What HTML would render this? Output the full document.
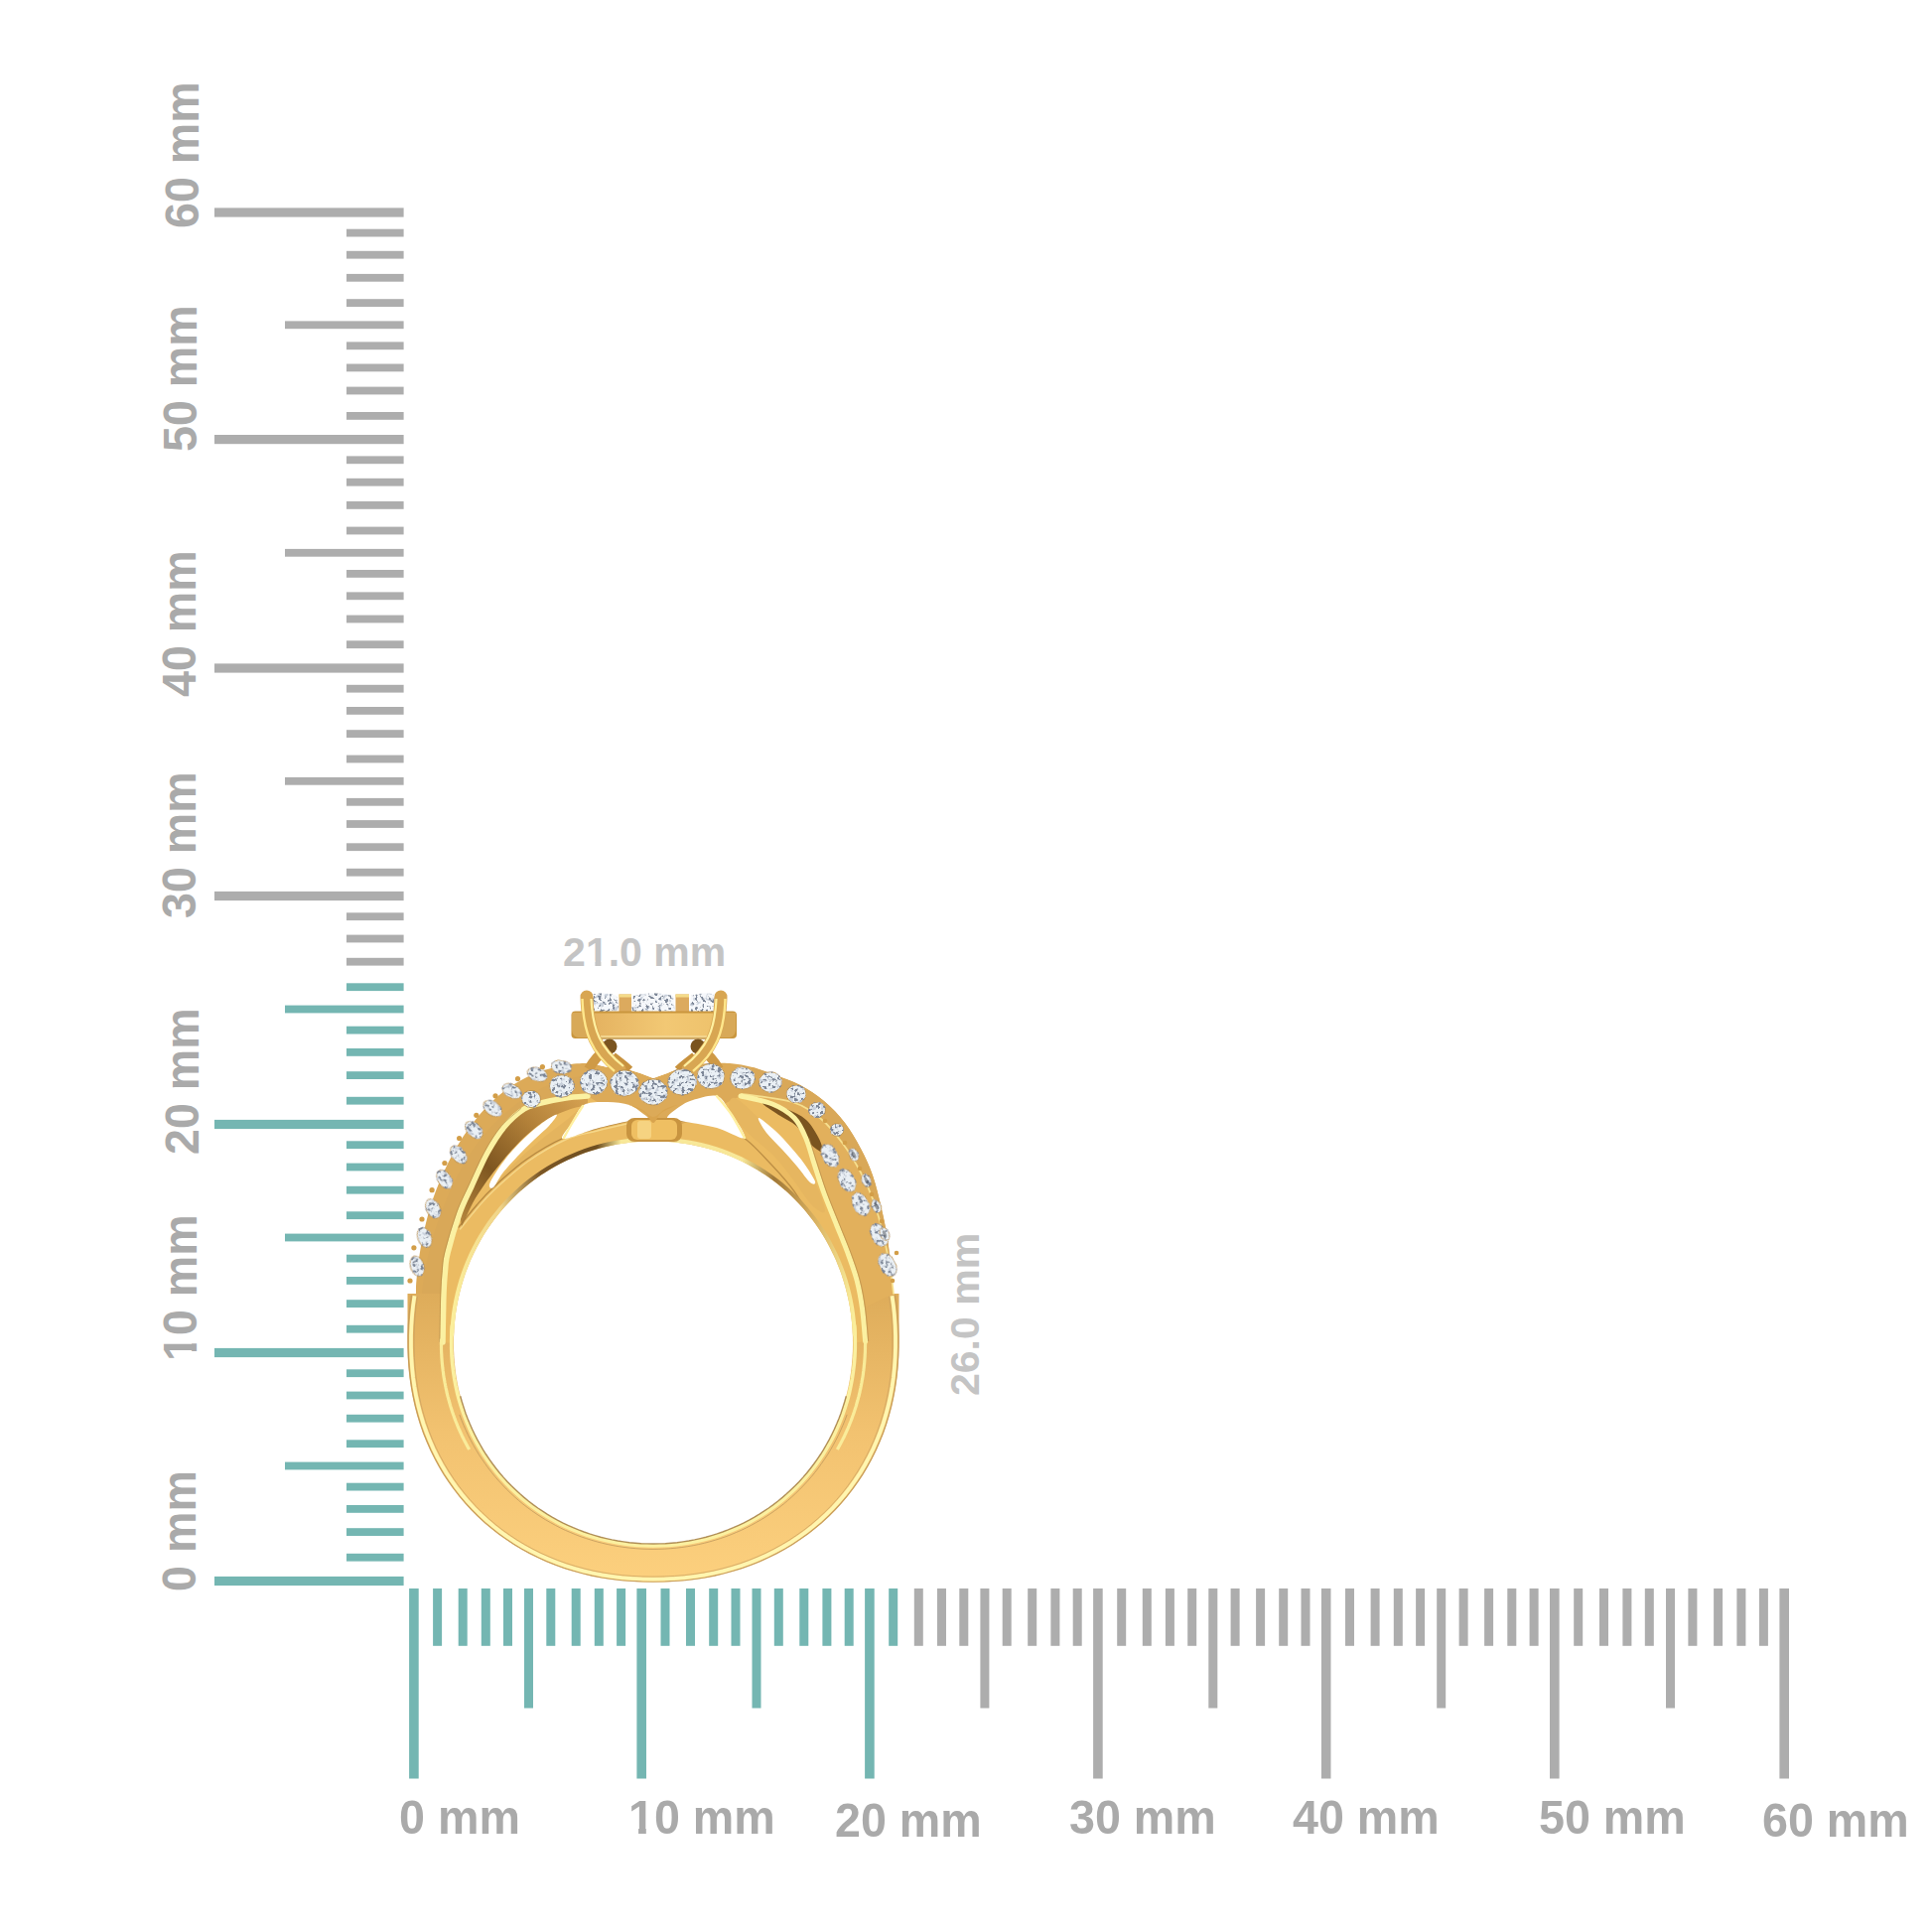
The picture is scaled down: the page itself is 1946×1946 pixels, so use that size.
<!DOCTYPE html>
<html><head><meta charset="utf-8">
<style>
html,body{margin:0;padding:0;background:#fff;}
body{width:1946px;height:1946px;position:relative;overflow:hidden;font-family:"Liberation Sans",sans-serif;}
.abs{position:absolute;left:0;top:0;}
.lab{position:absolute;font-weight:bold;font-size:48.5px;line-height:48px;color:#aaaaaa;white-space:nowrap;transform-origin:0 0;transform:scaleX(0.962);}
.sm{font-size:41px;line-height:40px;color:#c4c4c4;transform:none;}
.vl{transform:rotate(-90deg) scaleX(0.962);}
.sm.vl{transform:rotate(-90deg);}
.one{display:inline-block;clip-path:polygon(0 0,27px 0,27px 35px,18.5px 35px,18.5px 48px,10.5px 48px,10.5px 35px,0 35px);}
.sm .one{clip-path:polygon(0 0,23px 0,23px 29px,15.5px 29px,15.5px 40px,9.5px 40px,9.5px 29px,0 29px);}
</style></head><body>
<svg class="abs" width="1946" height="1946" viewBox="0 0 1946 1946"><rect x="412.1" y="1600" width="9.6" height="191.5" fill="#74b6b2"/><rect x="436.1" y="1600" width="9.0" height="57.8" fill="#74b6b2"/><rect x="461.7" y="1600" width="9.0" height="57.8" fill="#74b6b2"/><rect x="484.8" y="1600" width="9.0" height="57.8" fill="#74b6b2"/><rect x="507.0" y="1600" width="9.0" height="57.8" fill="#74b6b2"/><rect x="528.0" y="1600" width="9.0" height="120.5" fill="#74b6b2"/><rect x="550.3" y="1600" width="9.0" height="57.8" fill="#74b6b2"/><rect x="575.7" y="1600" width="9.0" height="57.8" fill="#74b6b2"/><rect x="598.8" y="1600" width="9.0" height="57.8" fill="#74b6b2"/><rect x="621.1" y="1600" width="9.0" height="57.8" fill="#74b6b2"/><rect x="641.4" y="1600" width="9.6" height="191.5" fill="#74b6b2"/><rect x="665.5" y="1600" width="9.0" height="57.8" fill="#74b6b2"/><rect x="691.0" y="1600" width="9.0" height="57.8" fill="#74b6b2"/><rect x="714.2" y="1600" width="9.0" height="57.8" fill="#74b6b2"/><rect x="736.5" y="1600" width="9.0" height="57.8" fill="#74b6b2"/><rect x="757.5" y="1600" width="9.0" height="120.5" fill="#74b6b2"/><rect x="779.8" y="1600" width="9.0" height="57.8" fill="#74b6b2"/><rect x="805.3" y="1600" width="9.0" height="57.8" fill="#74b6b2"/><rect x="828.4" y="1600" width="9.0" height="57.8" fill="#74b6b2"/><rect x="850.7" y="1600" width="9.0" height="57.8" fill="#74b6b2"/><rect x="871.1" y="1600" width="9.6" height="191.5" fill="#74b6b2"/><rect x="895.2" y="1600" width="9.0" height="57.8" fill="#74b6b2"/><rect x="920.8" y="1600" width="9.0" height="57.8" fill="#adadad"/><rect x="944.0" y="1600" width="9.0" height="57.8" fill="#adadad"/><rect x="966.3" y="1600" width="9.0" height="57.8" fill="#adadad"/><rect x="987.4" y="1600" width="9.0" height="120.5" fill="#adadad"/><rect x="1009.7" y="1600" width="9.0" height="57.8" fill="#adadad"/><rect x="1035.2" y="1600" width="9.0" height="57.8" fill="#adadad"/><rect x="1058.4" y="1600" width="9.0" height="57.8" fill="#adadad"/><rect x="1080.7" y="1600" width="9.0" height="57.8" fill="#adadad"/><rect x="1101.1" y="1600" width="9.6" height="191.5" fill="#adadad"/><rect x="1125.2" y="1600" width="9.0" height="57.8" fill="#adadad"/><rect x="1150.8" y="1600" width="9.0" height="57.8" fill="#adadad"/><rect x="1173.9" y="1600" width="9.0" height="57.8" fill="#adadad"/><rect x="1196.2" y="1600" width="9.0" height="57.8" fill="#adadad"/><rect x="1217.3" y="1600" width="9.0" height="120.5" fill="#adadad"/><rect x="1239.6" y="1600" width="9.0" height="57.8" fill="#adadad"/><rect x="1265.1" y="1600" width="9.0" height="57.8" fill="#adadad"/><rect x="1288.2" y="1600" width="9.0" height="57.8" fill="#adadad"/><rect x="1310.5" y="1600" width="9.0" height="57.8" fill="#adadad"/><rect x="1330.9" y="1600" width="9.6" height="191.5" fill="#adadad"/><rect x="1355.0" y="1600" width="9.0" height="57.8" fill="#adadad"/><rect x="1380.6" y="1600" width="9.0" height="57.8" fill="#adadad"/><rect x="1403.8" y="1600" width="9.0" height="57.8" fill="#adadad"/><rect x="1426.1" y="1600" width="9.0" height="57.8" fill="#adadad"/><rect x="1447.2" y="1600" width="9.0" height="120.5" fill="#adadad"/><rect x="1469.6" y="1600" width="9.0" height="57.8" fill="#adadad"/><rect x="1495.1" y="1600" width="9.0" height="57.8" fill="#adadad"/><rect x="1518.3" y="1600" width="9.0" height="57.8" fill="#adadad"/><rect x="1540.6" y="1600" width="9.0" height="57.8" fill="#adadad"/><rect x="1561.0" y="1600" width="9.6" height="191.5" fill="#adadad"/><rect x="1585.2" y="1600" width="9.0" height="57.8" fill="#adadad"/><rect x="1611.0" y="1600" width="9.0" height="57.8" fill="#adadad"/><rect x="1634.4" y="1600" width="9.0" height="57.8" fill="#adadad"/><rect x="1656.8" y="1600" width="9.0" height="57.8" fill="#adadad"/><rect x="1678.0" y="1600" width="9.0" height="120.5" fill="#adadad"/><rect x="1700.4" y="1600" width="9.0" height="57.8" fill="#adadad"/><rect x="1726.1" y="1600" width="9.0" height="57.8" fill="#adadad"/><rect x="1749.4" y="1600" width="9.0" height="57.8" fill="#adadad"/><rect x="1771.9" y="1600" width="9.0" height="57.8" fill="#adadad"/><rect x="1792.4" y="1600" width="9.6" height="191.5" fill="#adadad"/><rect x="216" y="1587.9" width="190.6" height="9.2" fill="#74b6b2"/><rect x="349" y="1564.8" width="57.6" height="7.8" fill="#74b6b2"/><rect x="349" y="1539.2" width="57.6" height="7.8" fill="#74b6b2"/><rect x="349" y="1516.0" width="57.6" height="7.8" fill="#74b6b2"/><rect x="349" y="1493.7" width="57.6" height="7.8" fill="#74b6b2"/><rect x="287" y="1472.6" width="119.6" height="7.8" fill="#74b6b2"/><rect x="349" y="1450.3" width="57.6" height="7.8" fill="#74b6b2"/><rect x="349" y="1424.8" width="57.6" height="7.8" fill="#74b6b2"/><rect x="349" y="1401.6" width="57.6" height="7.8" fill="#74b6b2"/><rect x="349" y="1379.3" width="57.6" height="7.8" fill="#74b6b2"/><rect x="216" y="1357.9" width="190.6" height="9.2" fill="#74b6b2"/><rect x="349" y="1334.8" width="57.6" height="7.8" fill="#74b6b2"/><rect x="349" y="1309.2" width="57.6" height="7.8" fill="#74b6b2"/><rect x="349" y="1286.0" width="57.6" height="7.8" fill="#74b6b2"/><rect x="349" y="1263.7" width="57.6" height="7.8" fill="#74b6b2"/><rect x="287" y="1242.6" width="119.6" height="7.8" fill="#74b6b2"/><rect x="349" y="1220.3" width="57.6" height="7.8" fill="#74b6b2"/><rect x="349" y="1194.8" width="57.6" height="7.8" fill="#74b6b2"/><rect x="349" y="1171.6" width="57.6" height="7.8" fill="#74b6b2"/><rect x="349" y="1149.3" width="57.6" height="7.8" fill="#74b6b2"/><rect x="216" y="1127.9" width="190.6" height="9.2" fill="#74b6b2"/><rect x="349" y="1104.8" width="57.6" height="7.8" fill="#74b6b2"/><rect x="349" y="1079.2" width="57.6" height="7.8" fill="#74b6b2"/><rect x="349" y="1056.0" width="57.6" height="7.8" fill="#74b6b2"/><rect x="349" y="1033.7" width="57.6" height="7.8" fill="#74b6b2"/><rect x="287" y="1012.6" width="119.6" height="7.8" fill="#74b6b2"/><rect x="349" y="990.3" width="57.6" height="7.8" fill="#74b6b2"/><rect x="349" y="964.8" width="57.6" height="7.8" fill="#adadad"/><rect x="349" y="941.6" width="57.6" height="7.8" fill="#adadad"/><rect x="349" y="919.3" width="57.6" height="7.8" fill="#adadad"/><rect x="216" y="897.9" width="190.6" height="9.2" fill="#adadad"/><rect x="349" y="874.8" width="57.6" height="7.8" fill="#adadad"/><rect x="349" y="849.3" width="57.6" height="7.8" fill="#adadad"/><rect x="349" y="826.1" width="57.6" height="7.8" fill="#adadad"/><rect x="349" y="803.9" width="57.6" height="7.8" fill="#adadad"/><rect x="287" y="782.9" width="119.6" height="7.8" fill="#adadad"/><rect x="349" y="760.6" width="57.6" height="7.8" fill="#adadad"/><rect x="349" y="735.2" width="57.6" height="7.8" fill="#adadad"/><rect x="349" y="712.0" width="57.6" height="7.8" fill="#adadad"/><rect x="349" y="689.8" width="57.6" height="7.8" fill="#adadad"/><rect x="216" y="668.4" width="190.6" height="9.2" fill="#adadad"/><rect x="349" y="645.3" width="57.6" height="7.8" fill="#adadad"/><rect x="349" y="619.6" width="57.6" height="7.8" fill="#adadad"/><rect x="349" y="596.4" width="57.6" height="7.8" fill="#adadad"/><rect x="349" y="574.0" width="57.6" height="7.8" fill="#adadad"/><rect x="287" y="552.9" width="119.6" height="7.8" fill="#adadad"/><rect x="349" y="530.6" width="57.6" height="7.8" fill="#adadad"/><rect x="349" y="505.0" width="57.6" height="7.8" fill="#adadad"/><rect x="349" y="481.8" width="57.6" height="7.8" fill="#adadad"/><rect x="349" y="459.4" width="57.6" height="7.8" fill="#adadad"/><rect x="216" y="438.0" width="190.6" height="9.2" fill="#adadad"/><rect x="349" y="415.0" width="57.6" height="7.8" fill="#adadad"/><rect x="349" y="389.6" width="57.6" height="7.8" fill="#adadad"/><rect x="349" y="366.5" width="57.6" height="7.8" fill="#adadad"/><rect x="349" y="344.4" width="57.6" height="7.8" fill="#adadad"/><rect x="287" y="323.4" width="119.6" height="7.8" fill="#adadad"/><rect x="349" y="301.2" width="57.6" height="7.8" fill="#adadad"/><rect x="349" y="275.9" width="57.6" height="7.8" fill="#adadad"/><rect x="349" y="252.8" width="57.6" height="7.8" fill="#adadad"/><rect x="349" y="230.7" width="57.6" height="7.8" fill="#adadad"/><rect x="216" y="209.4" width="190.6" height="9.2" fill="#adadad"/></svg>
<svg class="abs" width="1946" height="1946" viewBox="0 0 1946 1946">
<defs>
<linearGradient id="shankG" x1="0" y1="1290" x2="0" y2="1595" gradientUnits="userSpaceOnUse">
 <stop offset="0" stop-color="#dcaa58"/><stop offset="0.5" stop-color="#f2c270"/><stop offset="1" stop-color="#fcd07e"/></linearGradient>
<linearGradient id="bezface" x1="0" y1="0" x2="0" y2="1">
 <stop offset="0" stop-color="#f0c884"/><stop offset="0.7" stop-color="#f2c680"/><stop offset="0.88" stop-color="#e6b05a"/><stop offset="1" stop-color="#b8862e"/></linearGradient>
<linearGradient id="prongG" x1="0" y1="0" x2="1" y2="0">
 <stop offset="0" stop-color="#b88628"/><stop offset="0.45" stop-color="#ffe690"/><stop offset="1" stop-color="#c08a30"/></linearGradient>
<filter id="spark" x="0" y="0" width="1" height="1">
 <feTurbulence type="fractalNoise" baseFrequency="0.22" numOctaves="2" seed="5" result="n"/>
 <feColorMatrix in="n" type="matrix" values="0 0 0 0 0.58  0 0 0 0 0.63  0 0 0 0 0.71  0 0 0 -7 3.1" result="m"/>
 <feComposite in="m" in2="SourceGraphic" operator="in" result="c"/>
 <feTurbulence type="fractalNoise" baseFrequency="0.3" numOctaves="2" seed="17" result="n2"/>
 <feColorMatrix in="n2" type="matrix" values="0 0 0 0 0.20  0 0 0 0 0.24  0 0 0 0 0.31  0 0 0 -10 4.6" result="m2"/>
 <feComposite in="m2" in2="SourceGraphic" operator="in" result="c2"/>
 <feMerge><feMergeNode in="SourceGraphic"/><feMergeNode in="c"/><feMergeNode in="c2"/></feMerge>
</filter>
</defs>
<path d="M419.0,1303.0 C419.1,1300.7 418.7,1297.0 419.5,1289.0 C420.3,1281.0 421.8,1267.0 424.0,1255.0 C426.2,1243.0 429.5,1228.7 433.0,1217.0 C436.5,1205.3 440.7,1195.0 445.0,1185.0 C449.3,1175.0 454.0,1165.7 459.0,1157.0 C464.0,1148.3 469.2,1140.7 475.0,1133.0 C480.8,1125.3 486.8,1117.8 494.0,1111.0 C501.2,1104.2 509.5,1097.3 518.0,1092.0 C526.5,1086.7 535.5,1082.3 545.0,1079.0 C554.5,1075.7 566.8,1073.3 575.0,1072.0 C583.2,1070.7 590.8,1071.2 594.0,1071.0 L612.0,1075.0 L629.0,1076.0 L645.0,1081.0 L658.0,1086.0 L672.0,1081.0 L686.0,1075.0 L706.0,1071.0 C710.8,1071.0 726.3,1070.3 735.0,1071.0 C743.7,1071.7 750.3,1073.0 758.0,1075.0 C765.7,1077.0 773.0,1080.0 781.0,1083.0 C789.0,1086.0 797.8,1088.7 806.0,1093.0 C814.2,1097.3 822.5,1102.7 830.0,1109.0 C837.5,1115.3 844.8,1123.0 851.0,1131.0 C857.2,1139.0 862.3,1148.2 867.0,1157.0 C871.7,1165.8 875.5,1173.8 879.0,1184.0 C882.5,1194.2 885.5,1207.3 888.0,1218.0 C890.5,1228.7 892.5,1238.5 894.0,1248.0 C895.5,1257.5 896.2,1267.0 897.0,1275.0 C897.8,1283.0 898.2,1291.3 898.5,1296.0 C898.8,1300.7 898.9,1301.8 899.0,1303.0 L899,1360 L419,1360Z" fill="#dcaa58"/>
<path d="M905.5,1303  L905.5,1351.0 L905.4,1358.8 L905.2,1366.0 L904.8,1373.0 L904.2,1379.8 L903.5,1386.5 L902.6,1393.1 L901.6,1399.7 L900.4,1406.1 L899.0,1412.5 L897.5,1418.8 L895.9,1425.0 L894.1,1431.1 L892.1,1437.1 L890.0,1443.1 L887.7,1449.0 L885.3,1454.8 L882.7,1460.5 L880.0,1466.1 L877.1,1471.7 L874.1,1477.1 L870.9,1482.4 L867.6,1487.7 L864.2,1492.8 L860.6,1497.9 L856.9,1502.8 L853.1,1507.7 L849.1,1512.4 L845.0,1517.0 L840.8,1521.5 L836.5,1525.9 L832.0,1530.1 L827.4,1534.3 L822.7,1538.3 L817.9,1542.2 L813.0,1545.9 L807.9,1549.6 L802.8,1553.1 L797.5,1556.4 L792.2,1559.6 L786.7,1562.7 L781.1,1565.7 L775.5,1568.5 L769.8,1571.2 L763.9,1573.7 L758.0,1576.0 L752.0,1578.3 L745.9,1580.4 L739.7,1582.3 L733.5,1584.1 L727.2,1585.7 L720.7,1587.2 L714.2,1588.5 L707.7,1589.7 L701.0,1590.7 L694.3,1591.5 L687.4,1592.2 L680.4,1592.8 L673.3,1593.2 L666.0,1593.4 L658.0,1593.5 L650.0,1593.4 L642.7,1593.2 L635.6,1592.8 L628.6,1592.2 L621.7,1591.5 L615.0,1590.7 L608.3,1589.7 L601.8,1588.5 L595.3,1587.2 L588.8,1585.7 L582.5,1584.1 L576.3,1582.3 L570.1,1580.4 L564.0,1578.3 L558.0,1576.0 L552.1,1573.7 L546.2,1571.2 L540.5,1568.5 L534.9,1565.7 L529.3,1562.7 L523.8,1559.6 L518.5,1556.4 L513.2,1553.1 L508.1,1549.6 L503.0,1545.9 L498.1,1542.2 L493.3,1538.3 L488.6,1534.3 L484.0,1530.1 L479.5,1525.9 L475.2,1521.5 L471.0,1517.0 L466.9,1512.4 L462.9,1507.7 L459.1,1502.8 L455.4,1497.9 L451.8,1492.8 L448.4,1487.7 L445.1,1482.4 L441.9,1477.1 L438.9,1471.7 L436.0,1466.1 L433.3,1460.5 L430.7,1454.8 L428.3,1449.0 L426.0,1443.1 L423.9,1437.1 L421.9,1431.1 L420.1,1425.0 L418.5,1418.8 L417.0,1412.5 L415.6,1406.1 L414.4,1399.7 L413.4,1393.1 L412.5,1386.5 L411.8,1379.8 L411.2,1373.0 L410.8,1366.0 L410.6,1358.8 L410.5,1351.0 L410.5,1303Z" fill="url(#shankG)"/>
<path d="M446.0,1352.0 C446.1,1347.5 446.3,1333.2 446.5,1325.0 C446.7,1316.8 446.7,1310.5 447.0,1303.0 C447.3,1295.5 447.8,1286.8 448.5,1280.0 C449.2,1273.2 448.6,1271.7 451.0,1262.0 C453.4,1252.3 459.0,1233.2 463.0,1222.0 C467.0,1210.8 470.3,1205.2 475.0,1195.0 C479.7,1184.8 485.5,1171.0 491.0,1161.0 C496.5,1151.0 501.8,1142.3 508.0,1135.0 C514.2,1127.7 521.8,1121.0 528.0,1117.0 C534.2,1113.0 538.0,1112.8 545.0,1111.0 C552.0,1109.2 562.2,1107.2 570.0,1106.0 C577.8,1104.8 588.3,1104.3 592.0,1104.0 L662,1148  L665.4,1149.6 L658.6,1149.5 L651.8,1149.6 L645.1,1149.9 L638.6,1150.4 L632.0,1151.1 L625.5,1152.0 L619.1,1153.1 L612.7,1154.4 L606.4,1155.9 L600.2,1157.7 L594.0,1159.6 L587.9,1161.7 L581.9,1164.0 L575.9,1166.5 L570.1,1169.2 L564.3,1172.1 L558.7,1175.1 L553.1,1178.4 L547.7,1181.8 L542.3,1185.4 L537.1,1189.2 L532.0,1193.1 L527.1,1197.2 L522.3,1201.5 L517.6,1205.9 L513.1,1210.5 L508.7,1215.2 L504.5,1220.0 L500.4,1225.0 L496.5,1230.2 L492.8,1235.4 L489.2,1240.8 L485.8,1246.3 L482.6,1251.9 L479.6,1257.6 L476.7,1263.5 L474.0,1269.4 L471.5,1275.4 L469.2,1281.5 L467.1,1287.7 L465.2,1293.9 L463.5,1300.2 L462.0,1306.6 L460.7,1313.1 L459.5,1319.6 L458.6,1326.1 L457.9,1332.7 L457.4,1339.4 L457.1,1346.1 L457.0,1353.0Z" fill="#ebbb62"/>
<path d="M425.0,1303.0 C425.5,1299.2 426.3,1288.8 428.0,1280.0 C429.7,1271.2 432.2,1260.0 435.0,1250.0 C437.8,1240.0 441.2,1230.0 445.0,1220.0 C448.8,1210.0 453.3,1199.5 458.0,1190.0 C462.7,1180.5 467.7,1171.3 473.0,1163.0 C478.3,1154.7 483.8,1147.2 490.0,1140.0 C496.2,1132.8 502.5,1126.3 510.0,1120.0 C517.5,1113.7 526.7,1107.0 535.0,1102.0 C543.3,1097.0 550.2,1093.3 560.0,1090.0 C569.8,1086.7 588.3,1083.3 594.0,1082.0 L592.0,1104.0 C588.3,1104.3 577.8,1104.8 570.0,1106.0 C562.2,1107.2 552.0,1109.2 545.0,1111.0 C538.0,1112.8 534.2,1113.0 528.0,1117.0 C521.8,1121.0 514.2,1127.7 508.0,1135.0 C501.8,1142.3 496.5,1151.0 491.0,1161.0 C485.5,1171.0 479.7,1184.8 475.0,1195.0 C470.3,1205.2 467.0,1210.8 463.0,1222.0 C459.0,1233.2 453.4,1252.3 451.0,1262.0 C448.6,1271.7 449.2,1273.2 448.5,1280.0 C447.8,1286.8 447.2,1299.2 447.0,1303.0Z" fill="#d9a858" />
<linearGradient id="s2g" x1="465" y1="1236" x2="590" y2="1110" gradientUnits="userSpaceOnUse"><stop offset="0" stop-color="#b8883e"/><stop offset="0.35" stop-color="#7e5620"/><stop offset="0.7" stop-color="#b4823a"/><stop offset="1" stop-color="#d4a050"/></linearGradient>
<path d="M463.0,1222.0 C465.0,1217.5 470.3,1205.2 475.0,1195.0 C479.7,1184.8 485.5,1171.0 491.0,1161.0 C496.5,1151.0 501.8,1142.3 508.0,1135.0 C514.2,1127.7 521.8,1121.0 528.0,1117.0 C534.2,1113.0 538.0,1112.8 545.0,1111.0 C552.0,1109.2 562.2,1107.2 570.0,1106.0 C577.8,1104.8 588.3,1104.3 592.0,1104.0 L592.0,1113.0 C589.2,1113.7 581.7,1114.7 575.0,1117.0 C568.3,1119.3 559.2,1122.8 552.0,1127.0 C544.8,1131.2 538.2,1136.7 532.0,1142.0 C525.8,1147.3 520.3,1153.2 515.0,1159.0 C509.7,1164.8 504.5,1171.3 500.0,1177.0 C495.5,1182.7 492.0,1187.2 488.0,1193.0 C484.0,1198.8 479.8,1204.8 476.0,1212.0 C472.2,1219.2 466.8,1232.0 465.0,1236.0Z" fill="url(#s2g)"/>
<path d="M497.0,1195.0 C495.3,1195.3 512.0,1177.8 520.0,1170.0 C528.0,1162.2 536.3,1155.2 545.0,1148.0 C553.7,1140.8 564.8,1132.8 572.0,1127.0 C579.2,1121.2 587.2,1112.3 588.0,1113.0 C588.8,1113.7 580.3,1125.5 577.0,1131.0 C573.7,1136.5 575.8,1139.8 568.0,1146.0 C560.2,1152.2 541.8,1159.8 530.0,1168.0 C518.2,1176.2 498.7,1194.7 497.0,1195.0Z" fill="#e4b45e" />
<path d="M462.0,1236.0 C465.0,1232.3 474.2,1220.7 480.0,1214.0 C485.8,1207.3 488.7,1203.7 497.0,1196.0 C505.3,1188.3 518.2,1176.3 530.0,1168.0 C541.8,1159.7 556.3,1151.2 568.0,1146.0 C579.7,1140.8 589.0,1139.8 600.0,1137.0 C611.0,1134.2 628.3,1130.3 634.0,1129.0" fill="none" stroke="#a87a38" stroke-width="1.3" opacity="0.8" stroke-linecap="round" />
<path d="M463.5,1238.0 C466.5,1234.3 475.7,1222.7 481.5,1216.0 C487.3,1209.3 490.2,1205.7 498.5,1198.0 C506.8,1190.3 519.7,1178.3 531.5,1170.0 C543.3,1161.7 557.8,1153.2 569.5,1148.0 C581.2,1142.8 590.5,1141.8 601.5,1139.0 C612.5,1136.2 629.8,1132.3 635.5,1131.0" fill="none" stroke="#fae29a" stroke-width="1.4" opacity="0.7" stroke-linecap="round" />
<path d="M493.0,1193.0 C493.8,1189.8 498.2,1182.7 502.0,1177.0 C505.8,1171.3 510.7,1165.0 516.0,1159.0 C521.3,1153.0 528.0,1146.3 534.0,1141.0 C540.0,1135.7 547.5,1130.0 552.0,1127.0 C556.5,1124.0 560.8,1121.8 561.0,1123.0 C561.2,1124.2 556.8,1129.8 553.0,1134.0 C549.2,1138.2 543.3,1142.8 538.0,1148.0 C532.7,1153.2 526.3,1159.3 521.0,1165.0 C515.7,1170.7 510.0,1176.8 506.0,1182.0 C502.0,1187.2 499.2,1194.2 497.0,1196.0 C494.8,1197.8 492.2,1196.2 493.0,1193.0Z" fill="#ffffff" />
<path d="M567.0,1147.0 C563.0,1146.0 572.5,1136.7 576.0,1131.0 C579.5,1125.3 582.0,1116.5 588.0,1113.0 C594.0,1109.5 604.3,1110.0 612.0,1110.0 C619.7,1110.0 628.0,1111.0 634.0,1113.0 C640.0,1115.0 645.0,1119.7 648.0,1122.0 C651.0,1124.3 654.3,1125.8 652.0,1127.0 C649.7,1128.2 642.7,1127.3 634.0,1129.0 C625.3,1130.7 611.2,1134.0 600.0,1137.0 C588.8,1140.0 571.0,1148.0 567.0,1147.0Z" fill="#ffffff" />
<path d="M587.0,1114.0 C585.3,1116.7 580.2,1124.7 577.0,1130.0 C573.8,1135.3 569.5,1143.3 568.0,1146.0" fill="none" stroke="#fff0a0" stroke-width="2.4" opacity="1" stroke-linecap="round" />
<path d="M446.0,1352.0 C446.1,1347.5 446.3,1333.2 446.5,1325.0 C446.7,1316.8 446.7,1310.5 447.0,1303.0 C447.3,1295.5 447.8,1286.8 448.5,1280.0 C449.2,1273.2 448.6,1271.7 451.0,1262.0 C453.4,1252.3 459.0,1233.2 463.0,1222.0 C467.0,1210.8 470.3,1205.2 475.0,1195.0 C479.7,1184.8 485.5,1171.0 491.0,1161.0 C496.5,1151.0 501.8,1142.3 508.0,1135.0 C514.2,1127.7 521.8,1121.0 528.0,1117.0 C534.2,1113.0 538.0,1112.8 545.0,1111.0 C552.0,1109.2 562.2,1107.2 570.0,1106.0 C577.8,1104.8 588.3,1104.3 592.0,1104.0" fill="none" stroke="#fbf1a2" stroke-width="5.5" opacity="1" stroke-linecap="round" />
<path d="M442.8,1351.5 C442.9,1347.0 443.1,1332.7 443.3,1324.5 C443.5,1316.3 443.5,1310.0 443.8,1302.5 C444.1,1295.0 444.6,1286.3 445.3,1279.5 C446.0,1272.7 445.4,1271.2 447.8,1261.5 C450.2,1251.8 455.8,1232.7 459.8,1221.5 C463.8,1210.3 467.1,1204.7 471.8,1194.5 C476.5,1184.3 482.3,1170.5 487.8,1160.5 C493.3,1150.5 498.6,1141.8 504.8,1134.5 C511.0,1127.2 521.5,1119.5 524.8,1116.5" fill="none" stroke="#b08848" stroke-width="1.0" opacity="0.6" stroke-linecap="round" />
<path d="M654,1148  L746.0,1104.0 C751.3,1105.3 769.0,1108.3 778.0,1112.0 C787.0,1115.7 794.3,1120.2 800.0,1126.0 C805.7,1131.8 808.7,1139.3 812.0,1147.0 C815.3,1154.7 817.0,1162.8 820.0,1172.0 C823.0,1181.2 826.2,1191.7 830.0,1202.0 C833.8,1212.3 838.7,1224.0 842.7,1234.0 C846.7,1244.0 850.5,1252.7 853.9,1262.0 C857.3,1271.3 860.8,1280.7 863.2,1290.0 C865.6,1299.3 867.1,1307.8 868.5,1318.0 C869.9,1328.2 871.1,1345.5 871.6,1351.0 L859,1353  L859.0,1353.0 L858.9,1346.1 L858.6,1339.4 L858.1,1332.7 L857.4,1326.1 L856.5,1319.6 L855.3,1313.1 L854.0,1306.6 L852.5,1300.2 L850.8,1293.9 L848.9,1287.7 L846.8,1281.5 L844.5,1275.4 L842.0,1269.4 L839.3,1263.5 L836.4,1257.6 L833.4,1251.9 L830.2,1246.3 L826.8,1240.8 L823.2,1235.4 L819.5,1230.2 L815.6,1225.0 L811.5,1220.0 L807.3,1215.2 L802.9,1210.5 L798.4,1205.9 L793.7,1201.5 L788.9,1197.2 L784.0,1193.1 L778.9,1189.2 L773.7,1185.4 L768.3,1181.8 L762.9,1178.4 L757.3,1175.1 L751.7,1172.1 L745.9,1169.2 L740.1,1166.5 L734.1,1164.0 L728.1,1161.7 L722.0,1159.6 L715.8,1157.7 L709.6,1155.9 L703.3,1154.4 L696.9,1153.1 L690.5,1152.0 L684.0,1151.1 L677.4,1150.4 L670.9,1149.9 L664.2,1149.6 L657.4,1149.5 L650.6,1149.6Z" fill="#ebbb62"/>
<path d="M758.0,1075.0 C761.8,1076.3 773.0,1080.0 781.0,1083.0 C789.0,1086.0 797.8,1088.7 806.0,1093.0 C814.2,1097.3 822.5,1102.7 830.0,1109.0 C837.5,1115.3 844.8,1123.0 851.0,1131.0 C857.2,1139.0 862.3,1148.2 867.0,1157.0 C871.7,1165.8 875.5,1173.8 879.0,1184.0 C882.5,1194.2 885.5,1207.3 888.0,1218.0 C890.5,1228.7 892.5,1238.5 894.0,1248.0 C895.5,1257.5 896.2,1267.0 897.0,1275.0 C897.8,1283.0 898.2,1291.3 898.5,1296.0 C898.8,1300.7 898.9,1301.8 899.0,1303.0 L900.0,1303.0 C899.5,1299.2 898.7,1289.7 897.0,1280.0 C895.3,1270.3 892.8,1256.7 890.0,1245.0 C887.2,1233.3 883.8,1220.7 880.0,1210.0 C876.2,1199.3 872.2,1190.7 867.0,1181.0 C861.8,1171.3 855.7,1161.0 849.0,1152.0 C842.3,1143.0 835.5,1134.0 827.0,1127.0 C818.5,1120.0 811.3,1114.2 798.0,1110.0 C784.7,1105.8 755.5,1103.3 747.0,1102.0Z" fill="#d9a858" />
<path d="M747.0,1102.0 C755.5,1103.3 784.7,1105.8 798.0,1110.0 C811.3,1114.2 818.5,1120.0 827.0,1127.0 C835.5,1134.0 842.3,1143.0 849.0,1152.0 C855.7,1161.0 861.8,1171.3 867.0,1181.0 C872.2,1190.7 876.2,1199.3 880.0,1210.0 C883.8,1220.7 887.2,1233.3 890.0,1245.0 C892.8,1256.7 895.3,1270.3 897.0,1280.0 C898.7,1289.7 899.5,1299.2 900.0,1303.0 L868.5,1318.0 C867.6,1313.3 865.6,1299.3 863.2,1290.0 C860.8,1280.7 857.3,1271.3 853.9,1262.0 C850.5,1252.7 846.7,1244.0 842.7,1234.0 C838.7,1224.0 833.8,1212.3 830.0,1202.0 C826.2,1191.7 823.0,1181.2 820.0,1172.0 C817.0,1162.8 815.3,1154.7 812.0,1147.0 C808.7,1139.3 805.7,1131.8 800.0,1126.0 C794.3,1120.2 787.0,1115.7 778.0,1112.0 C769.0,1108.3 751.3,1105.3 746.0,1104.0Z" fill="#e2b05c" />
<path d="M768.0,1111.0 C769.0,1109.8 784.7,1114.2 792.0,1117.0 C799.3,1119.8 806.5,1123.0 812.0,1128.0 C817.5,1133.0 822.3,1141.7 825.0,1147.0 C827.7,1152.3 829.5,1159.2 828.0,1160.0 C826.5,1160.8 820.3,1156.3 816.0,1152.0 C811.7,1147.7 807.0,1138.7 802.0,1134.0 C797.0,1129.3 791.7,1127.8 786.0,1124.0 C780.3,1120.2 767.0,1112.2 768.0,1111.0Z" fill="#7a5420" />
<path d="M740.0,1106.0 C744.8,1107.3 756.0,1118.0 764.0,1126.0 C772.0,1134.0 781.0,1145.3 788.0,1154.0 C795.0,1162.7 800.5,1171.8 806.0,1178.0 C811.5,1184.2 816.8,1184.0 821.0,1191.0 C825.2,1198.0 831.5,1216.2 831.0,1220.0 C830.5,1223.8 823.2,1219.0 818.0,1214.0 C812.8,1209.0 806.3,1198.2 800.0,1190.0 C793.7,1181.8 788.0,1173.3 780.0,1165.0 C772.0,1156.7 759.5,1147.8 752.0,1140.0 C744.5,1132.2 737.0,1123.7 735.0,1118.0 C733.0,1112.3 735.2,1104.7 740.0,1106.0Z" fill="#e6b660" />
<path d="M686.0,1129.0 C691.7,1129.8 709.5,1131.2 720.0,1134.0 C730.5,1136.8 739.7,1139.7 749.0,1146.0 C758.3,1152.3 767.5,1163.0 776.0,1172.0 C784.5,1181.0 793.0,1190.3 800.0,1200.0 C807.0,1209.7 813.0,1220.0 818.0,1230.0 C823.0,1240.0 828.0,1255.0 830.0,1260.0" fill="none" stroke="#a87a38" stroke-width="1.3" opacity="0.7" stroke-linecap="round" />
<path d="M764.0,1126.0 C765.5,1125.7 775.5,1134.0 781.0,1139.0 C786.5,1144.0 792.2,1150.5 797.0,1156.0 C801.8,1161.5 806.0,1166.3 810.0,1172.0 C814.0,1177.7 820.0,1186.8 821.0,1190.0 C822.0,1193.2 819.0,1193.5 816.0,1191.0 C813.0,1188.5 807.7,1180.5 803.0,1175.0 C798.3,1169.5 793.2,1163.7 788.0,1158.0 C782.8,1152.3 776.0,1146.3 772.0,1141.0 C768.0,1135.7 762.5,1126.3 764.0,1126.0Z" fill="#ffffff" />
<path d="M672.0,1126.0 C671.7,1123.7 679.7,1118.0 684.0,1115.0 C688.3,1112.0 691.7,1109.8 698.0,1108.0 C704.3,1106.2 715.8,1102.2 722.0,1104.0 C728.2,1105.8 730.3,1112.0 735.0,1119.0 C739.7,1126.0 752.2,1143.2 750.0,1146.0 C747.8,1148.8 732.7,1138.8 722.0,1136.0 C711.3,1133.2 694.3,1130.7 686.0,1129.0 C677.7,1127.3 672.3,1128.3 672.0,1126.0Z" fill="#ffffff" />
<path d="M722.0,1104.0 C724.5,1107.2 732.3,1116.0 737.0,1123.0 C741.7,1130.0 747.8,1142.2 750.0,1146.0" fill="none" stroke="#fff0a0" stroke-width="2.4" opacity="1" stroke-linecap="round" />
<path d="M747.0,1102.0 C755.5,1103.3 784.7,1105.8 798.0,1110.0 C811.3,1114.2 818.5,1120.0 827.0,1127.0 C835.5,1134.0 842.3,1143.0 849.0,1152.0 C855.7,1161.0 861.8,1171.3 867.0,1181.0 C872.2,1190.7 876.2,1199.3 880.0,1210.0 C883.8,1220.7 887.2,1233.3 890.0,1245.0 C892.8,1256.7 895.3,1270.3 897.0,1280.0 C898.7,1289.7 899.5,1299.2 900.0,1303.0" fill="none" stroke="#f8e494" stroke-width="1.8" opacity="0.9" stroke-linecap="round" />
<path d="M746.0,1104.0 C751.3,1105.3 769.0,1108.3 778.0,1112.0 C787.0,1115.7 794.3,1120.2 800.0,1126.0 C805.7,1131.8 808.7,1139.3 812.0,1147.0 C815.3,1154.7 817.0,1162.8 820.0,1172.0 C823.0,1181.2 826.2,1191.7 830.0,1202.0 C833.8,1212.3 838.7,1224.0 842.7,1234.0 C846.7,1244.0 850.5,1252.7 853.9,1262.0 C857.3,1271.3 860.8,1280.7 863.2,1290.0 C865.6,1299.3 867.1,1307.8 868.5,1318.0 C869.9,1328.2 871.1,1345.5 871.6,1351.0" fill="none" stroke="#fbf1a2" stroke-width="5.0" opacity="1" stroke-linecap="round" />
<path d="M815.0,1146.5 C816.3,1150.7 820.0,1162.3 823.0,1171.5 C826.0,1180.7 829.2,1191.2 833.0,1201.5 C836.8,1211.8 841.7,1223.5 845.7,1233.5 C849.7,1243.5 853.5,1252.2 856.9,1261.5 C860.3,1270.8 863.8,1280.2 866.2,1289.5 C868.6,1298.8 870.1,1307.3 871.5,1317.5 C872.9,1327.7 874.1,1345.0 874.6,1350.5" fill="none" stroke="#b08848" stroke-width="1.0" opacity="0.6" stroke-linecap="round" />
<path d="M901.5,1304.6 L902.9,1314.3 L903.9,1324.3 L904.6,1334.5 L905.0,1345.2 L905.0,1356.9 L904.6,1367.6 L903.9,1377.8 L902.9,1387.7 L901.5,1397.4 L899.7,1407.0 L897.7,1416.3 L895.2,1425.5 L892.5,1434.6 L889.4,1443.4 L885.9,1452.1 L882.2,1460.5 L878.1,1468.8 L873.7,1476.9 L869.0,1484.8 L864.0,1492.4 L858.6,1499.9 L853.0,1507.1 L847.1,1514.0 L841.0,1520.7 L834.5,1527.2 L827.8,1533.4 L820.8,1539.3 L813.6,1544.9 L806.1,1550.3 L798.4,1555.4 L790.5,1560.1 L782.4,1564.6 L774.0,1568.7 L765.5,1572.6 L756.7,1576.1 L747.8,1579.3 L738.7,1582.2 L729.4,1584.7 L719.9,1587.0 L710.3,1588.8 L700.4,1590.4 L690.4,1591.6 L680.1,1592.4 L669.5,1592.9 L658.0,1593.1 L646.5,1592.9 L635.9,1592.4 L625.6,1591.6 L615.6,1590.4 L605.7,1588.8 L596.1,1587.0 L586.6,1584.7 L577.3,1582.2 L568.2,1579.3 L559.3,1576.1 L550.5,1572.6 L542.0,1568.7 L533.6,1564.6 L525.5,1560.1 L517.6,1555.4 L509.9,1550.3 L502.4,1544.9 L495.2,1539.3 L488.2,1533.4 L481.5,1527.2 L475.0,1520.7 L468.9,1514.0 L463.0,1507.1 L457.4,1499.9 L452.0,1492.4 L447.0,1484.8 L442.3,1476.9 L437.9,1468.8 L433.8,1460.5 L430.1,1452.1 L426.6,1443.4 L423.5,1434.6 L420.8,1425.5 L418.3,1416.3 L416.3,1407.0 L414.5,1397.4 L413.1,1387.7 L412.1,1377.8 L411.4,1367.6 L411.0,1356.9 L411.0,1345.2 L411.4,1334.5 L412.1,1324.3 L413.1,1314.3 L414.5,1304.6" fill="none" stroke="#c49a58" stroke-width="1.3" opacity="0.9"/>
<path d="M898.5,1305.2 L899.9,1314.9 L900.9,1324.7 L901.6,1334.8 L902.0,1345.3 L902.0,1357.0 L901.6,1367.5 L900.9,1377.6 L899.9,1387.4 L898.5,1397.1 L896.8,1406.5 L894.7,1415.8 L892.3,1424.9 L889.6,1433.8 L886.5,1442.5 L883.1,1451.1 L879.4,1459.5 L875.4,1467.7 L871.0,1475.7 L866.4,1483.5 L861.4,1491.0 L856.2,1498.4 L850.6,1505.5 L844.8,1512.4 L838.7,1519.0 L832.3,1525.4 L825.7,1531.5 L818.8,1537.4 L811.7,1543.0 L804.3,1548.3 L796.7,1553.3 L788.9,1558.0 L780.8,1562.4 L772.6,1566.5 L764.1,1570.3 L755.5,1573.8 L746.7,1577.0 L737.7,1579.8 L728.5,1582.3 L719.1,1584.5 L709.6,1586.4 L699.9,1587.9 L690.0,1589.1 L679.9,1589.9 L669.4,1590.4 L658.0,1590.6 L646.6,1590.4 L636.1,1589.9 L626.0,1589.1 L616.1,1587.9 L606.4,1586.4 L596.9,1584.5 L587.5,1582.3 L578.3,1579.8 L569.3,1577.0 L560.5,1573.8 L551.9,1570.3 L543.4,1566.5 L535.2,1562.4 L527.1,1558.0 L519.3,1553.3 L511.7,1548.3 L504.3,1543.0 L497.2,1537.4 L490.3,1531.5 L483.7,1525.4 L477.3,1519.0 L471.2,1512.4 L465.4,1505.5 L459.8,1498.4 L454.6,1491.0 L449.6,1483.5 L445.0,1475.7 L440.6,1467.7 L436.6,1459.5 L432.9,1451.1 L429.5,1442.5 L426.4,1433.8 L423.7,1424.9 L421.3,1415.8 L419.2,1406.5 L417.5,1397.1 L416.1,1387.4 L415.1,1377.6 L414.4,1367.5 L414.0,1357.0 L414.0,1345.3 L414.4,1334.8 L415.1,1324.7 L416.1,1314.9 L417.5,1305.2" fill="none" stroke="#fff6b0" stroke-width="3.8" opacity="1"/>
<path d="M895.5,1305.9 L896.9,1315.4 L897.9,1325.1 L898.6,1335.1 L898.9,1345.5 L898.9,1357.0 L898.6,1367.5 L897.9,1377.4 L896.9,1387.2 L895.5,1396.7 L893.8,1406.0 L891.8,1415.2 L889.4,1424.2 L886.7,1433.0 L883.7,1441.7 L880.4,1450.1 L876.7,1458.4 L872.7,1466.5 L868.4,1474.4 L863.8,1482.1 L858.9,1489.6 L853.7,1496.9 L848.3,1503.9 L842.5,1510.7 L836.5,1517.3 L830.2,1523.6 L823.6,1529.7 L816.8,1535.5 L809.8,1541.0 L802.5,1546.2 L795.0,1551.2 L787.3,1555.8 L779.3,1560.2 L771.2,1564.3 L762.8,1568.0 L754.3,1571.5 L745.6,1574.6 L736.7,1577.4 L727.6,1579.9 L718.4,1582.1 L709.0,1583.9 L699.4,1585.4 L689.6,1586.6 L679.6,1587.4 L669.2,1587.9 L658.0,1588.1 L646.8,1587.9 L636.4,1587.4 L626.4,1586.6 L616.6,1585.4 L607.0,1583.9 L597.6,1582.1 L588.4,1579.9 L579.3,1577.4 L570.4,1574.6 L561.7,1571.5 L553.2,1568.0 L544.8,1564.3 L536.7,1560.2 L528.7,1555.8 L521.0,1551.2 L513.5,1546.2 L506.2,1541.0 L499.2,1535.5 L492.4,1529.7 L485.8,1523.6 L479.5,1517.3 L473.5,1510.7 L467.7,1503.9 L462.3,1496.9 L457.1,1489.6 L452.2,1482.1 L447.6,1474.4 L443.3,1466.5 L439.3,1458.4 L435.6,1450.1 L432.3,1441.7 L429.3,1433.0 L426.6,1424.2 L424.2,1415.2 L422.2,1406.0 L420.5,1396.7 L419.1,1387.2 L418.1,1377.4 L417.4,1367.5 L417.1,1357.0 L417.1,1345.5 L417.4,1335.1 L418.1,1325.1 L419.1,1315.4 L420.5,1305.9" fill="none" stroke="#c9a060" stroke-width="1.0" opacity="0.7"/>
<path d="M871.5,1348.5 L871.5,1349.9 L871.6,1351.2 L871.6,1352.6 L871.6,1354.0 L871.5,1355.3 L871.5,1356.7 L871.5,1358.0 L871.5,1359.3 L871.4,1360.7 L871.4,1362.0 L871.3,1363.3 L871.2,1364.6 L871.2,1365.9 L871.1,1367.2 L871.0,1368.5 L870.9,1369.8 L870.8,1371.2 L870.7,1372.5 L870.6,1373.8 L870.4,1375.1 L870.3,1376.4 L870.2,1377.6 L870.0,1378.9 L869.9,1380.2 L869.7,1381.5 L869.5,1382.8 L869.4,1384.1 L869.2,1385.4 L869.0,1386.7 L868.8,1387.9 L868.6,1389.2 L868.3,1390.5 L868.1,1391.8 L867.9,1393.0 L867.6,1394.3 L867.4,1395.6 L867.1,1396.8 L866.9,1398.1 L866.6,1399.4 L866.3,1400.6 L866.1,1401.9 L865.8,1403.1 L865.5,1404.4 L865.2,1405.6 L864.9,1406.9 L864.5,1408.1 L864.2,1409.4 L863.9,1410.6 L863.5,1411.8 L863.2,1413.1 L862.8,1414.3 L862.5,1415.5 L862.1,1416.8 L861.7,1418.0 L861.3,1419.2 L860.9,1420.4 L860.5,1421.7 L860.1,1422.9 L859.7,1424.1 L859.3,1425.3 L858.8,1426.5 L858.4,1427.7 L858.0,1428.9 L857.5,1430.1 L857.1,1431.3 L856.6,1432.5 L856.1,1433.7 L855.6,1434.8 L855.2,1436.0 L854.7,1437.2 L854.2,1438.4 L853.7,1439.5 L853.1,1440.7 L852.6,1441.9 L852.1,1443.0 L851.6,1444.2 L851.0,1445.4 L850.5,1446.5 L849.9,1447.7 L849.3,1448.8 L848.8,1449.9 L848.2,1451.1 L847.6,1452.2 L847.0,1453.3 L846.4,1454.5 L845.8,1455.6 L845.2,1456.7 L844.6,1457.8 L844.0,1458.9 L843.3,1460.0" fill="none" stroke="#faee9c" stroke-width="3.2" opacity="0.95"/>
<path d="M472.7,1460.0 L472.0,1458.9 L471.4,1457.8 L470.8,1456.7 L470.2,1455.6 L469.6,1454.5 L469.0,1453.3 L468.4,1452.2 L467.8,1451.1 L467.2,1449.9 L466.7,1448.8 L466.1,1447.7 L465.5,1446.5 L465.0,1445.4 L464.4,1444.2 L463.9,1443.0 L463.4,1441.9 L462.9,1440.7 L462.3,1439.5 L461.8,1438.4 L461.3,1437.2 L460.8,1436.0 L460.4,1434.8 L459.9,1433.7 L459.4,1432.5 L458.9,1431.3 L458.5,1430.1 L458.0,1428.9 L457.6,1427.7 L457.2,1426.5 L456.7,1425.3 L456.3,1424.1 L455.9,1422.9 L455.5,1421.7 L455.1,1420.4 L454.7,1419.2 L454.3,1418.0 L453.9,1416.8 L453.5,1415.5 L453.2,1414.3 L452.8,1413.1 L452.5,1411.8 L452.1,1410.6 L451.8,1409.4 L451.5,1408.1 L451.1,1406.9 L450.8,1405.6 L450.5,1404.4 L450.2,1403.1 L449.9,1401.9 L449.7,1400.6 L449.4,1399.4 L449.1,1398.1 L448.9,1396.8 L448.6,1395.6 L448.4,1394.3 L448.1,1393.0 L447.9,1391.8 L447.7,1390.5 L447.4,1389.2 L447.2,1387.9 L447.0,1386.7 L446.8,1385.4 L446.6,1384.1 L446.5,1382.8 L446.3,1381.5 L446.1,1380.2 L446.0,1378.9 L445.8,1377.6 L445.7,1376.4 L445.6,1375.1 L445.4,1373.8 L445.3,1372.5 L445.2,1371.2 L445.1,1369.8 L445.0,1368.5 L444.9,1367.2 L444.8,1365.9 L444.8,1364.6 L444.7,1363.3 L444.6,1362.0 L444.6,1360.7 L444.5,1359.3 L444.5,1358.0 L444.5,1356.7 L444.5,1355.3 L444.4,1354.0 L444.4,1352.6 L444.4,1351.2 L444.5,1349.9 L444.5,1348.5" fill="none" stroke="#faee9c" stroke-width="3.2" opacity="0.95"/>
<path d="M853.2,1424.9 L851.2,1430.2 L849.1,1435.4 L846.8,1440.5 L844.5,1445.6 L841.9,1450.6 L839.3,1455.5 L836.5,1460.4 L833.6,1465.2 L830.5,1469.8 L827.3,1474.4 L824.0,1479.0 L820.6,1483.4 L817.1,1487.7 L813.4,1491.9 L809.6,1496.0 L805.8,1500.0 L801.8,1503.9 L797.7,1507.7 L793.5,1511.4 L789.2,1515.0 L784.8,1518.4 L780.3,1521.7 L775.7,1524.9 L771.0,1528.0 L766.3,1530.9 L761.4,1533.7 L756.5,1536.4 L751.5,1539.0 L746.5,1541.4 L741.3,1543.6 L736.1,1545.8 L730.9,1547.8 L725.5,1549.6 L720.2,1551.3 L714.7,1552.9 L709.3,1554.3 L703.7,1555.6 L698.2,1556.7 L692.6,1557.7 L686.9,1558.5 L681.2,1559.2 L675.5,1559.7 L669.8,1560.1 L663.9,1560.3 L658.0,1560.4 L652.1,1560.3 L646.2,1560.1 L640.5,1559.7 L634.8,1559.2 L629.1,1558.5 L623.4,1557.7 L617.8,1556.7 L612.3,1555.6 L606.7,1554.3 L601.3,1552.9 L595.8,1551.3 L590.5,1549.6 L585.1,1547.8 L579.9,1545.8 L574.7,1543.6 L569.5,1541.4 L564.5,1539.0 L559.5,1536.4 L554.6,1533.7 L549.7,1530.9 L545.0,1528.0 L540.3,1524.9 L535.7,1521.7 L531.2,1518.4 L526.8,1515.0 L522.5,1511.4 L518.3,1507.7 L514.2,1503.9 L510.2,1500.0 L506.4,1496.0 L502.6,1491.9 L498.9,1487.7 L495.4,1483.4 L492.0,1479.0 L488.7,1474.4 L485.5,1469.8 L482.4,1465.2 L479.5,1460.4 L476.7,1455.5 L474.1,1450.6 L471.5,1445.6 L469.2,1440.5 L466.9,1435.4 L464.8,1430.2 L462.8,1424.9" fill="none" stroke="#b99358" stroke-width="1.0" opacity="0.7"/>
<path d="M859.0,1353.0 L858.9,1360.4 L858.5,1367.7 L857.9,1374.8 L857.1,1381.9 L856.0,1389.0 L854.7,1396.0 L853.1,1402.9 L851.3,1409.7 L849.3,1416.5 L847.1,1423.2 L844.6,1429.8 L841.9,1436.3 L838.9,1442.6 L835.8,1448.9 L832.4,1455.0 L828.9,1461.1 L825.1,1466.9 L821.1,1472.7 L816.9,1478.3 L812.6,1483.7 L808.0,1489.0 L803.3,1494.1 L798.4,1499.0 L793.3,1503.8 L788.0,1508.4 L782.6,1512.7 L777.1,1516.9 L771.4,1520.9 L765.5,1524.7 L759.5,1528.3 L753.4,1531.7 L747.2,1534.8 L740.8,1537.8 L734.4,1540.5 L727.8,1543.0 L721.2,1545.3 L714.5,1547.3 L707.7,1549.1 L700.8,1550.7 L693.8,1552.0 L686.8,1553.1 L679.7,1553.9 L672.6,1554.5 L665.4,1554.9 L658.0,1555.0 L650.6,1554.9 L643.4,1554.5 L636.3,1553.9 L629.2,1553.1 L622.2,1552.0 L615.2,1550.7 L608.3,1549.1 L601.5,1547.3 L594.8,1545.3 L588.2,1543.0 L581.6,1540.5 L575.2,1537.8 L568.8,1534.8 L562.6,1531.7 L556.5,1528.3 L550.5,1524.7 L544.6,1520.9 L538.9,1516.9 L533.4,1512.7 L528.0,1508.4 L522.7,1503.8 L517.6,1499.0 L512.7,1494.1 L508.0,1489.0 L503.4,1483.7 L499.1,1478.3 L494.9,1472.7 L490.9,1466.9 L487.1,1461.1 L483.6,1455.0 L480.2,1448.9 L477.1,1442.6 L474.1,1436.3 L471.4,1429.8 L468.9,1423.2 L466.7,1416.5 L464.7,1409.7 L462.9,1402.9 L461.3,1396.0 L460.0,1389.0 L458.9,1381.9 L458.1,1374.8 L457.5,1367.7 L457.1,1360.4 L457.0,1353.0 L457.1,1345.5 L457.5,1338.2 L458.1,1331.0 L458.9,1323.8 L460.0,1316.7 L461.3,1309.7 L462.9,1302.7 L464.7,1295.8 L466.7,1289.0 L468.9,1282.3 L471.4,1275.7 L474.1,1269.1 L477.1,1262.7 L480.2,1256.4 L483.6,1250.2 L487.1,1244.1 L490.9,1238.2 L494.9,1232.4 L499.1,1226.8 L503.4,1221.3 L508.0,1216.0 L512.7,1210.9 L517.6,1205.9 L522.7,1201.1 L528.0,1196.5 L533.4,1192.1 L538.9,1187.8 L544.6,1183.8 L550.5,1180.0 L556.5,1176.4 L562.6,1173.0 L568.8,1169.8 L575.2,1166.8 L581.6,1164.1 L588.2,1161.6 L594.8,1159.3 L601.5,1157.3 L608.3,1155.5 L615.2,1153.9 L622.2,1152.5 L629.2,1151.5 L636.3,1150.6 L643.4,1150.0 L650.6,1149.6 L658.0,1149.5 L665.4,1149.6 L672.6,1150.0 L679.7,1150.6 L686.8,1151.5 L693.8,1152.5 L700.8,1153.9 L707.7,1155.5 L714.5,1157.3 L721.2,1159.3 L727.8,1161.6 L734.4,1164.1 L740.8,1166.8 L747.2,1169.8 L753.4,1173.0 L759.5,1176.4 L765.5,1180.0 L771.4,1183.8 L777.1,1187.8 L782.6,1192.1 L788.0,1196.5 L793.3,1201.1 L798.4,1205.9 L803.3,1210.9 L808.0,1216.0 L812.6,1221.3 L816.9,1226.8 L821.1,1232.4 L825.1,1238.2 L828.9,1244.1 L832.4,1250.2 L835.8,1256.4 L838.9,1262.7 L841.9,1269.1 L844.6,1275.7 L847.1,1282.3 L849.3,1289.0 L851.3,1295.8 L853.1,1302.7 L854.7,1309.7 L856.0,1316.7 L857.1,1323.8 L857.9,1331.0 L858.5,1338.2 L858.9,1345.5 L859.0,1353.0Z" fill="#ffffff"/>
<path d="M860.6,1334.5 L861.1,1342.2 L861.3,1349.9 L861.3,1357.9 L861.0,1365.7 L860.4,1373.3 L859.5,1380.9 L858.4,1388.5 L857.0,1395.9 L855.4,1403.3 L853.5,1410.6 L851.3,1417.8 L848.8,1424.9 L846.1,1431.9 L843.2,1438.8 L840.0,1445.6 L836.6,1452.2 L832.9,1458.7 L829.0,1465.0 L824.8,1471.2 L820.5,1477.2 L815.9,1483.1 L811.1,1488.8 L806.1,1494.3 L800.8,1499.6 L795.4,1504.7 L789.9,1509.6 L784.1,1514.2 L778.1,1518.7 L772.0,1522.9 L765.8,1527.0 L759.3,1530.7 L752.8,1534.3 L746.1,1537.6 L739.3,1540.6 L732.3,1543.4 L725.3,1546.0 L718.2,1548.3 L710.9,1550.3 L703.6,1552.0 L696.2,1553.5 L688.7,1554.7 L681.2,1555.7 L673.6,1556.4 L665.9,1556.8 L658.0,1556.9 L650.1,1556.8 L642.4,1556.4 L634.8,1555.7 L627.3,1554.7 L619.8,1553.5 L612.4,1552.0 L605.1,1550.3 L597.8,1548.3 L590.7,1546.0 L583.7,1543.4 L576.7,1540.6 L569.9,1537.6 L563.2,1534.3 L556.7,1530.7 L550.2,1527.0 L544.0,1522.9 L537.9,1518.7 L531.9,1514.2 L526.1,1509.6 L520.6,1504.7 L515.2,1499.6 L509.9,1494.3 L504.9,1488.8 L500.1,1483.1 L495.5,1477.2 L491.2,1471.2 L487.0,1465.0 L483.1,1458.7 L479.4,1452.2 L476.0,1445.6 L472.8,1438.8 L469.9,1431.9 L467.2,1424.9 L464.7,1417.8 L462.5,1410.6 L460.6,1403.3 L459.0,1395.9 L457.6,1388.5 L456.5,1380.9 L455.6,1373.3 L455.0,1365.7 L454.7,1357.9 L454.7,1349.9 L454.9,1342.2 L455.4,1334.5" fill="none" stroke="#fbf0a0" stroke-width="3.6" opacity="1"/>
<linearGradient id="rimtop" x1="455" y1="0" x2="861" y2="0" gradientUnits="userSpaceOnUse"><stop offset="0" stop-color="#fbef9c"/><stop offset="0.12" stop-color="#f0d488"/><stop offset="0.22" stop-color="#7a5626"/><stop offset="0.36" stop-color="#6e4e20"/><stop offset="0.42" stop-color="#f8e898"/><stop offset="0.72" stop-color="#f8e898"/><stop offset="0.8" stop-color="#a07838"/><stop offset="0.9" stop-color="#d8b060"/><stop offset="1" stop-color="#fbef9c"/></linearGradient>
<path d="M455.1,1345.5 L455.5,1338.3 L456.1,1331.1 L456.9,1324.0 L457.9,1317.0 L459.2,1310.1 L460.7,1303.2 L462.5,1296.3 L464.4,1289.6 L466.6,1282.9 L469.0,1276.4 L471.6,1269.9 L474.4,1263.5 L477.5,1257.3 L480.7,1251.1 L484.2,1245.1 L487.9,1239.2 L491.7,1233.4 L495.8,1227.8 L500.0,1222.4 L504.4,1217.0 L509.0,1211.9 L513.8,1206.9 L518.7,1202.1 L523.8,1197.4 L529.1,1192.9 L534.5,1188.7 L540.0,1184.6 L545.7,1180.7 L551.5,1177.0 L557.5,1173.5 L563.6,1170.2 L569.8,1167.1 L576.1,1164.3 L582.5,1161.6 L588.9,1159.2 L595.5,1157.0 L602.2,1155.0 L608.9,1153.3 L615.7,1151.7 L622.6,1150.4 L629.5,1149.4 L636.5,1148.6 L643.6,1148.0 L650.7,1147.6 L658.0,1147.5 L665.3,1147.6 L672.4,1148.0 L679.5,1148.6 L686.5,1149.4 L693.4,1150.4 L700.3,1151.7 L707.1,1153.3 L713.8,1155.0 L720.5,1157.0 L727.1,1159.2 L733.5,1161.6 L739.9,1164.3 L746.2,1167.1 L752.4,1170.2 L758.5,1173.5 L764.5,1177.0 L770.3,1180.7 L776.0,1184.6 L781.5,1188.7 L786.9,1192.9 L792.2,1197.4 L797.3,1202.1 L802.2,1206.9 L807.0,1211.9 L811.6,1217.0 L816.0,1222.4 L820.2,1227.8 L824.3,1233.4 L828.1,1239.2 L831.8,1245.1 L835.3,1251.1 L838.5,1257.3 L841.6,1263.5 L844.4,1269.9 L847.0,1276.4 L849.4,1282.9 L851.6,1289.6 L853.5,1296.3 L855.3,1303.2 L856.8,1310.1 L858.1,1317.0 L859.1,1324.0 L859.9,1331.1 L860.5,1338.3 L860.9,1345.5" fill="none" stroke="url(#rimtop)" stroke-width="4"/>
<path d="M852.3,1406.3 L850.7,1412.0 L848.9,1417.6 L847.1,1423.2 L845.0,1428.7 L842.8,1434.1 L840.4,1439.5 L837.9,1444.7 L835.3,1449.9 L832.4,1455.0 L829.5,1460.1 L826.4,1465.0 L823.1,1469.8 L819.8,1474.5 L816.2,1479.2 L812.6,1483.7 L808.8,1488.1 L804.9,1492.4 L800.9,1496.6 L796.7,1500.6 L792.4,1504.6 L788.0,1508.4 L783.6,1512.0 L778.9,1515.6 L774.2,1519.0 L769.4,1522.2 L764.5,1525.3 L759.5,1528.3 L754.5,1531.1 L749.3,1533.8 L744.0,1536.3 L738.7,1538.7 L733.3,1540.9 L727.8,1543.0 L722.3,1544.9 L716.7,1546.6 L711.1,1548.2 L705.4,1549.6 L699.6,1550.9 L693.8,1552.0 L688.0,1552.9 L682.1,1553.7 L676.2,1554.2 L670.2,1554.7 L664.2,1554.9 L658.0,1555.0 L651.8,1554.9 L645.8,1554.7 L639.8,1554.2 L633.9,1553.7 L628.0,1552.9 L622.2,1552.0 L616.4,1550.9 L610.6,1549.6 L604.9,1548.2 L599.3,1546.6 L593.7,1544.9 L588.2,1543.0 L582.7,1540.9 L577.3,1538.7 L572.0,1536.3 L566.7,1533.8 L561.5,1531.1 L556.5,1528.3 L551.5,1525.3 L546.6,1522.2 L541.8,1519.0 L537.1,1515.6 L532.4,1512.0 L528.0,1508.4 L523.6,1504.6 L519.3,1500.6 L515.1,1496.6 L511.1,1492.4 L507.2,1488.1 L503.4,1483.7 L499.8,1479.2 L496.2,1474.5 L492.9,1469.8 L489.6,1465.0 L486.5,1460.1 L483.6,1455.0 L480.7,1449.9 L478.1,1444.7 L475.6,1439.5 L473.2,1434.1 L471.0,1428.7 L468.9,1423.2 L467.1,1417.6 L465.3,1412.0 L463.7,1406.3" fill="none" stroke="#a8854c" stroke-width="1.4" opacity="0.9"/>
<rect x="631" y="1126" width="56" height="24" rx="8" fill="#c89440"/>
<rect x="636" y="1128" width="46" height="20" rx="6" fill="#efbf62"/>
<rect x="642" y="1129" width="14" height="18" rx="3" fill="#f8d88a" opacity="0.8"/>
<path d="M634.0,1113.0 C634.7,1113.7 646.0,1118.0 650.0,1121.0 C654.0,1124.0 655.3,1131.0 658.0,1131.0 C660.7,1131.0 662.0,1124.0 666.0,1121.0 C670.0,1118.0 681.3,1113.7 682.0,1113.0 C682.7,1112.3 674.0,1115.0 670.0,1117.0 C666.0,1119.0 662.0,1125.0 658.0,1125.0 C654.0,1125.0 650.0,1119.0 646.0,1117.0 C642.0,1115.0 633.3,1112.3 634.0,1113.0Z" fill="#d9a44e" />
<path d="M612,1046 L704,1046 L716,1071 L700,1072 L686,1075 L672,1081 L658,1086 L645,1081 L629,1076 L612,1075 L600,1072Z" fill="#fff"/>
<path d="M589.7,1020 L591.7,1003 Q606.6,997.5 621.5,1003 L623.5,1020Z" fill="#f6f8fb" filter="url(#spark)"/>
<path d="M636,1020 L638,1003 Q658.0,997.5 678,1003 L680,1020Z" fill="#f6f8fb" filter="url(#spark)"/>
<path d="M694,1020 L696,1003 Q710.5,997.5 725,1003 L727,1020Z" fill="#f6f8fb" filter="url(#spark)"/>
<rect x="623.5" y="1001.5" width="12.5" height="18" fill="#dcaa5e"/>
<rect x="623.5" y="1001.5" width="12.5" height="3" fill="#f5dc8a"/>
<rect x="680.5" y="1001.5" width="13.5" height="18" fill="#dcaa5e"/>
<rect x="680.5" y="1001.5" width="13.5" height="3" fill="#f5dc8a"/>
<rect x="575.5" y="1018.5" width="166.5" height="27.5" rx="4" fill="#c9963e"/>
<path d="M576,1020 L597,1020 L597,1045 L582,1045 Q577,1044 576,1038Z" fill="#d8a958"/>
<path d="M741,1020 L720,1020 L720,1045 L735,1045 Q740,1044 741,1038Z" fill="#d8a958"/>
<linearGradient id="bezh" x1="597" y1="0" x2="720" y2="0" gradientUnits="userSpaceOnUse"><stop offset="0" stop-color="#e4b260"/><stop offset="0.6" stop-color="#f2c874"/><stop offset="1" stop-color="#eec26c"/></linearGradient>
<rect x="597" y="1020.5" width="123" height="22.5" fill="url(#bezh)"/>
<rect x="597" y="1043" width="123" height="2.8" fill="#f3d48e"/>
<rect x="597" y="1045.5" width="123" height="1.2" fill="#b88a3c"/>
<circle cx="614" cy="1054" r="7.5" fill="#7a5420"/>
<circle cx="703" cy="1054" r="7.5" fill="#7a5420"/>
<path d="M593.0,1077 C598.0,1068 603.0,1062 610.0,1058" stroke="#cf9a46" stroke-width="10" fill="none"/>
<path d="M617.0,1064 C622.0,1068 628.0,1072 634.0,1078" stroke="#c8923e" stroke-width="9" fill="none"/>
<path d="M591.0,1004 C592.0,1040 601.0,1058 624.0,1077" stroke="#d8a652" stroke-width="13" fill="none" stroke-linecap="round"/>
<path d="M586.5,1006 C587.5,1040 596.0,1060 619.0,1079" stroke="#ffe78c" stroke-width="2.4" fill="none"/>
<path d="M595.5,1006 C597.0,1038 605.0,1056 628.0,1074" stroke="#fff0a0" stroke-width="2.2" fill="none"/>
<path d="M724.0,1077 C719.0,1068 714.0,1062 707.0,1058" stroke="#cf9a46" stroke-width="10" fill="none"/>
<path d="M700.0,1064 C695.0,1068 689.0,1072 683.0,1078" stroke="#c8923e" stroke-width="9" fill="none"/>
<path d="M726.0,1004 C725.0,1040 716.0,1058 693.0,1077" stroke="#d8a652" stroke-width="13" fill="none" stroke-linecap="round"/>
<path d="M730.5,1006 C729.5,1040 721.0,1060 698.0,1079" stroke="#ffe78c" stroke-width="2.4" fill="none"/>
<path d="M721.5,1006 C720.0,1038 712.0,1056 689.0,1074" stroke="#fff0a0" stroke-width="2.2" fill="none"/>
<ellipse cx="420.2" cy="1275.3" rx="10.5" ry="6.8" transform="rotate(72 420.2 1275.3)" fill="#eaf0f5" stroke="#b88a40" stroke-width="0.8" filter="url(#spark)"/>
<ellipse cx="427.6" cy="1246.4" rx="10.5" ry="6.8" transform="rotate(68 427.6 1246.4)" fill="#eaf0f5" stroke="#b88a40" stroke-width="0.8" filter="url(#spark)"/>
<ellipse cx="436.3" cy="1217.5" rx="10.5" ry="6.8" transform="rotate(62 436.3 1217.5)" fill="#eaf0f5" stroke="#b88a40" stroke-width="0.8" filter="url(#spark)"/>
<ellipse cx="447.8" cy="1187.9" rx="10.5" ry="6.8" transform="rotate(56 447.8 1187.9)" fill="#eaf0f5" stroke="#b88a40" stroke-width="0.8" filter="url(#spark)"/>
<ellipse cx="461.9" cy="1163.0" rx="10.5" ry="6.8" transform="rotate(50 461.9 1163.0)" fill="#eaf0f5" stroke="#b88a40" stroke-width="0.8" filter="url(#spark)"/>
<ellipse cx="477.4" cy="1138.1" rx="10.5" ry="6.8" transform="rotate(44 477.4 1138.1)" fill="#eaf0f5" stroke="#b88a40" stroke-width="0.8" filter="url(#spark)"/>
<ellipse cx="496.2" cy="1116.5" rx="10.5" ry="6.8" transform="rotate(36 496.2 1116.5)" fill="#eaf0f5" stroke="#b88a40" stroke-width="0.8" filter="url(#spark)"/>
<ellipse cx="515.7" cy="1099.0" rx="10.5" ry="6.8" transform="rotate(28 515.7 1099.0)" fill="#eaf0f5" stroke="#b88a40" stroke-width="0.8" filter="url(#spark)"/>
<ellipse cx="541.3" cy="1082.2" rx="10.5" ry="6.8" transform="rotate(18 541.3 1082.2)" fill="#eaf0f5" stroke="#b88a40" stroke-width="0.8" filter="url(#spark)"/>
<ellipse cx="565.5" cy="1074.8" rx="10.5" ry="6.8" transform="rotate(10 565.5 1074.8)" fill="#eaf0f5" stroke="#b88a40" stroke-width="0.8" filter="url(#spark)"/>
<circle cx="416.9" cy="1256.8" r="2.6" fill="#d39e48"/>
<circle cx="425.0" cy="1228.0" r="2.6" fill="#d39e48"/>
<circle cx="435.1" cy="1198.7" r="2.6" fill="#d39e48"/>
<circle cx="447.9" cy="1171.5" r="2.6" fill="#d39e48"/>
<circle cx="462.6" cy="1146.5" r="2.6" fill="#d39e48"/>
<circle cx="479.8" cy="1123.3" r="2.6" fill="#d39e48"/>
<circle cx="499.0" cy="1103.8" r="2.6" fill="#d39e48"/>
<circle cx="521.5" cy="1086.6" r="2.6" fill="#d39e48"/>
<circle cx="546.4" cy="1074.5" r="2.6" fill="#d39e48"/>
<circle cx="413.0" cy="1290.0" r="2.6" fill="#d39e48"/>
<ellipse cx="535.0" cy="1107.0" rx="9.5" ry="8.6" transform="rotate(0 535.0 1107.0)" fill="#eaf0f5" stroke="#b88a40" stroke-width="0.8" filter="url(#spark)"/>
<ellipse cx="566.0" cy="1094.0" rx="12.5" ry="11.2" transform="rotate(0 566.0 1094.0)" fill="#eaf0f5" stroke="#b88a40" stroke-width="0.8" filter="url(#spark)"/>
<ellipse cx="598.0" cy="1090.0" rx="14.0" ry="12.6" transform="rotate(0 598.0 1090.0)" fill="#eaf0f5" stroke="#b88a40" stroke-width="0.8" filter="url(#spark)"/>
<ellipse cx="629.0" cy="1091.0" rx="14.5" ry="13.1" transform="rotate(0 629.0 1091.0)" fill="#eaf0f5" stroke="#b88a40" stroke-width="0.8" filter="url(#spark)"/>
<ellipse cx="658.0" cy="1100.0" rx="14.5" ry="13.1" transform="rotate(0 658.0 1100.0)" fill="#eaf0f5" stroke="#b88a40" stroke-width="0.8" filter="url(#spark)"/>
<ellipse cx="687.0" cy="1090.0" rx="14.5" ry="13.1" transform="rotate(0 687.0 1090.0)" fill="#eaf0f5" stroke="#b88a40" stroke-width="0.8" filter="url(#spark)"/>
<ellipse cx="716.0" cy="1084.0" rx="14.0" ry="12.6" transform="rotate(0 716.0 1084.0)" fill="#eaf0f5" stroke="#b88a40" stroke-width="0.8" filter="url(#spark)"/>
<ellipse cx="748.0" cy="1086.0" rx="12.5" ry="11.2" transform="rotate(0 748.0 1086.0)" fill="#eaf0f5" stroke="#b88a40" stroke-width="0.8" filter="url(#spark)"/>
<ellipse cx="776.0" cy="1090.0" rx="11.5" ry="10.3" transform="rotate(0 776.0 1090.0)" fill="#eaf0f5" stroke="#b88a40" stroke-width="0.8" filter="url(#spark)"/>
<ellipse cx="802.0" cy="1102.0" rx="10.0" ry="9.0" transform="rotate(0 802.0 1102.0)" fill="#eaf0f5" stroke="#b88a40" stroke-width="0.8" filter="url(#spark)"/>
<ellipse cx="823.0" cy="1118.0" rx="8.5" ry="7.7" transform="rotate(0 823.0 1118.0)" fill="#eaf0f5" stroke="#b88a40" stroke-width="0.8" filter="url(#spark)"/>
<ellipse cx="843.0" cy="1138.0" rx="7.0" ry="6.3" transform="rotate(0 843.0 1138.0)" fill="#eaf0f5" stroke="#b88a40" stroke-width="0.8" filter="url(#spark)"/>
<ellipse cx="836.0" cy="1164.0" rx="12.5" ry="8.0" transform="rotate(62 836.0 1164.0)" fill="#eaf0f5" stroke="#b88a40" stroke-width="0.8" filter="url(#spark)"/>
<ellipse cx="853.0" cy="1189.0" rx="12.5" ry="8.0" transform="rotate(62 853.0 1189.0)" fill="#eaf0f5" stroke="#b88a40" stroke-width="0.8" filter="url(#spark)"/>
<ellipse cx="867.0" cy="1213.0" rx="12.5" ry="8.0" transform="rotate(62 867.0 1213.0)" fill="#eaf0f5" stroke="#b88a40" stroke-width="0.8" filter="url(#spark)"/>
<ellipse cx="885.5" cy="1244.0" rx="12.5" ry="8.0" transform="rotate(62 885.5 1244.0)" fill="#eaf0f5" stroke="#b88a40" stroke-width="0.8" filter="url(#spark)"/>
<ellipse cx="894.0" cy="1274.0" rx="12.5" ry="8.0" transform="rotate(62 894.0 1274.0)" fill="#eaf0f5" stroke="#b88a40" stroke-width="0.8" filter="url(#spark)"/>
<ellipse cx="860.0" cy="1163.0" rx="7.0" ry="4.5" transform="rotate(66 860.0 1163.0)" fill="#eaf0f5" stroke="#b88a40" stroke-width="0.8" filter="url(#spark)"/><ellipse cx="860.0" cy="1163.0" rx="3.9" ry="1.6" transform="rotate(66 860.0 1163.0)" fill="#3a3e46" opacity="0.45"/>
<ellipse cx="872.6" cy="1189.0" rx="7.0" ry="4.5" transform="rotate(66 872.6 1189.0)" fill="#eaf0f5" stroke="#b88a40" stroke-width="0.8" filter="url(#spark)"/><ellipse cx="872.6" cy="1189.0" rx="3.9" ry="1.6" transform="rotate(66 872.6 1189.0)" fill="#3a3e46" opacity="0.45"/>
<ellipse cx="882.7" cy="1215.0" rx="7.0" ry="4.5" transform="rotate(66 882.7 1215.0)" fill="#eaf0f5" stroke="#b88a40" stroke-width="0.8" filter="url(#spark)"/><ellipse cx="882.7" cy="1215.0" rx="3.9" ry="1.6" transform="rotate(66 882.7 1215.0)" fill="#3a3e46" opacity="0.45"/>
<ellipse cx="891.0" cy="1243.0" rx="7.0" ry="4.5" transform="rotate(66 891.0 1243.0)" fill="#eaf0f5" stroke="#b88a40" stroke-width="0.8" filter="url(#spark)"/><ellipse cx="891.0" cy="1243.0" rx="3.9" ry="1.6" transform="rotate(66 891.0 1243.0)" fill="#3a3e46" opacity="0.45"/>
<circle cx="831.0" cy="1129.0" r="2.3" fill="#d39e48"/>
<circle cx="851.0" cy="1151.0" r="2.3" fill="#d39e48"/>
<circle cx="866.0" cy="1177.0" r="2.3" fill="#d39e48"/>
<circle cx="878.0" cy="1203.0" r="2.3" fill="#d39e48"/>
<circle cx="888.0" cy="1230.0" r="2.3" fill="#d39e48"/>
<circle cx="903.0" cy="1262.0" r="2.3" fill="#d39e48"/>
<circle cx="899.0" cy="1290.0" r="2.3" fill="#d39e48"/>
</svg>
<div class="lab" id="h0" style="left:401.7px;top:1806.1px">0 mm</div><div class="lab" id="h10" style="left:632.8px;top:1806.4px"><span class="one">1</span>0 mm</div><div class="lab" id="h20" style="left:841.0px;top:1808.7px">20 mm</div><div class="lab" id="h30" style="left:1076.6px;top:1806.3px">30 mm</div><div class="lab" id="h40" style="left:1301.8px;top:1806.0px">40 mm</div><div class="lab" id="h50" style="left:1550.1px;top:1806.0px">50 mm</div><div class="lab" id="h60" style="left:1775.1px;top:1809.0px">60 mm</div><div class="lab vl" id="v0" style="left:155.6px;top:1602.5px">0 mm</div><div class="lab vl" id="v10" style="left:156.9px;top:1370.7px"><span class="one">1</span>0 mm</div><div class="lab vl" id="v20" style="left:158.8px;top:1162.5px">20 mm</div><div class="lab vl" id="v30" style="left:156.0px;top:925.0px">30 mm</div><div class="lab vl" id="v40" style="left:156.1px;top:702.2px">40 mm</div><div class="lab vl" id="v50" style="left:156.9px;top:454.7px">50 mm</div><div class="lab vl" id="v60" style="left:159.3px;top:229.6px">60 mm</div><div class="lab sm" id="t21" style="left:567.1px;top:938.7px">2<span class="one">1</span>.0 mm</div><div class="lab sm vl" id="t26" style="left:951.7px;top:1405.6px">26.0 mm</div>
</body></html>
